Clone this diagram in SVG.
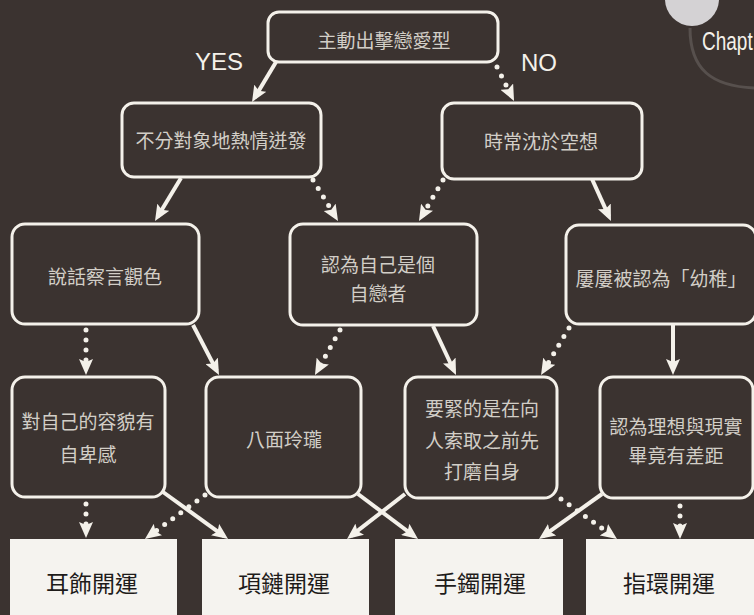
<svg xmlns="http://www.w3.org/2000/svg" width="754" height="615" viewBox="0 0 754 615">
<style>
.bg{fill:#3b3330}
.box{fill:#3b3330;stroke:#f4f1ea;stroke-width:3}
.res{fill:#f5f3ef;stroke:none}
.t{font-family:"Noto Sans CJK TC","Noto Sans CJK JP",sans-serif;font-size:19px;fill:#d2cec7;text-anchor:middle;dominant-baseline:central}
.rt{font-family:"Noto Sans CJK TC","Noto Sans CJK JP",sans-serif;font-size:23px;fill:#1e1b1a;text-anchor:middle;dominant-baseline:central}
.lab{font-family:"Liberation Sans",Arial,sans-serif;font-size:24px;fill:#f4f1ea}
.s{fill:none;stroke:#f4f1ea;stroke-width:4}
.d{fill:none;stroke:#f4f1ea;stroke-width:5;stroke-linecap:round;stroke-dasharray:0 10}
</style>
<defs>
<marker id="ah" viewBox="0 0 16 14" markerWidth="16" markerHeight="14" refX="11" refY="7" orient="auto" markerUnits="userSpaceOnUse">
<path d="M0,0 L16,7 L0,14 L3,7 z" fill="#f4f1ea"/>
</marker>
</defs>
<rect class="bg" x="0" y="0" width="754" height="615"/>
<g id="chapter">
<path d="M690,28 C690,70 712,86 754,88" fill="none" stroke="#57504d" stroke-width="3"/>
<circle cx="692" cy="-1" r="27" fill="#d4d2d4"/>
<text transform="translate(702,50) scale(1,1.35)" x="0" y="0" font-family="Liberation Sans,Arial,sans-serif" font-size="19" fill="#f4f1ea">Chapt</text>
</g>
<g id="labels">
<text class="lab" x="195" y="70">YES</text>
<text class="lab" x="521" y="71">NO</text>
</g>
<g id="n0"><rect class="box" x="268" y="12" width="230" height="50" rx="11"/><text class="t" x="384" y="39">主動出擊戀愛型</text></g>
<g id="n1"><rect class="box" x="122" y="103" width="199" height="74" rx="12"/><text class="t" x="221" y="139">不分對象地熱情迸發</text></g>
<g id="n2"><rect class="box" x="442" y="103" width="200" height="76" rx="12"/><text class="t" x="541" y="140">時常沈於空想</text></g>
<g id="n3"><rect class="box" x="12" y="224" width="187" height="100" rx="13"/><text class="t" x="105" y="275">說話察言觀色</text></g>
<g id="n4"><rect class="box" x="290" y="224" width="187" height="101" rx="13"/><text class="t" x="378" y="263">認為自己是個</text><text class="t" x="378" y="292">自戀者</text></g>
<g id="n5"><rect class="box" x="566" y="225" width="190" height="99" rx="13"/><text class="t" x="661" y="277">屢屢被認為「幼稚」</text></g>
<g id="n6"><rect class="box" x="12" y="377" width="153" height="120" rx="13"/><text class="t" x="88" y="420">對自己的容貌有</text><text class="t" x="88" y="453">自卑感</text></g>
<g id="n7"><rect class="box" x="206" y="377" width="155" height="120" rx="13"/><text class="t" x="284" y="438">八面玲瓏</text></g>
<g id="n8"><rect class="box" x="405" y="377" width="152" height="121" rx="13"/><text class="t" x="482" y="407">要緊的是在向</text><text class="t" x="482" y="439">人索取之前先</text><text class="t" x="482" y="470">打磨自身</text></g>
<g id="n9"><rect class="box" x="600" y="377" width="153" height="121" rx="13"/><text class="t" x="676" y="425">認為理想與現實</text><text class="t" x="676" y="454">畢竟有差距</text></g>
<g id="r1"><rect class="res" x="10" y="539" width="167" height="80"/><text class="rt" x="92" y="582">耳飾開運</text></g>
<g id="r2"><rect class="res" x="202" y="539" width="167" height="80"/><text class="rt" x="284" y="582">項鏈開運</text></g>
<g id="r3"><rect class="res" x="395" y="539" width="168" height="80"/><text class="rt" x="480" y="582">手鐲開運</text></g>
<g id="r4"><rect class="res" x="586" y="539" width="170" height="80"/><text class="rt" x="669" y="582">指環開運</text></g>
<g id="connectors">
<path class="s" d="M276,62 L254.6,97.7" marker-end="url(#ah)"/>
<path class="d" d="M497,67 L511.8,96.5" marker-end="url(#ah)"/>
<path class="s" d="M181,178 L157.6,216.7" marker-end="url(#ah)"/>
<path class="d" d="M313,180 L335.4,216.7" marker-end="url(#ah)"/>
<path class="d" d="M443,180 L421.5,216.7" marker-end="url(#ah)"/>
<path class="s" d="M592,179 L608.9,216.4" marker-end="url(#ah)"/>
<path class="d" d="M86,330 L86,370" marker-end="url(#ah)"/>
<path class="s" d="M193,325 L216.7,370.6" marker-end="url(#ah)"/>
<path class="d" d="M340,330 L317.4,370.6" marker-end="url(#ah)"/>
<path class="s" d="M433,326 L453.9,370.5" marker-end="url(#ah)"/>
<path class="d" d="M569,328 L543.6,370.7" marker-end="url(#ah)"/>
<path class="s" d="M673,325 L673,370" marker-end="url(#ah)"/>
<path class="d" d="M86,504 L86,533" marker-end="url(#ah)"/>
<path class="s" d="M163,492 L224,536.1" marker-end="url(#ah)"/>
<path class="d" d="M205,495 L149,536" marker-end="url(#ah)"/>
<path class="s" d="M358,494 L414,536" marker-end="url(#ah)"/>
<path class="s" d="M405,494 L351,535.9" marker-end="url(#ah)"/>
<path class="d" d="M561,499 L612.9,536.1" marker-end="url(#ah)"/>
<path class="s" d="M602,494 L543.1,536.1" marker-end="url(#ah)"/>
<path class="d" d="M680,506 L680,534" marker-end="url(#ah)"/>
</g>
</svg>
